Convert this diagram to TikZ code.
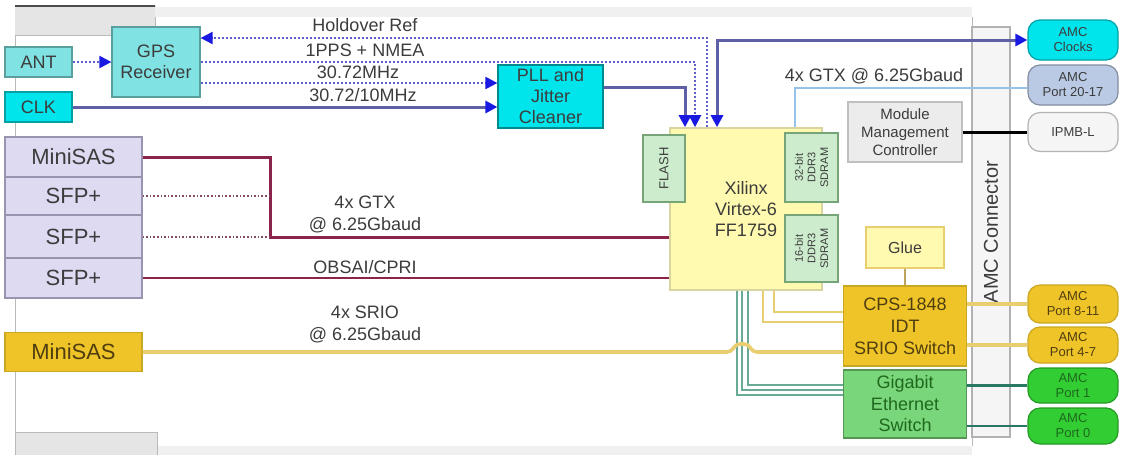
\documentclass[tikz,border=0pt]{standalone}
\usepackage{fontspec}
\setmainfont{Liberation Sans}
\usetikzlibrary{shapes.geometric, arrows.meta, positioning, calc}

\definecolor{cyanlt}{RGB}{128,226,226}
\definecolor{cyanbr}{RGB}{0,228,236}
\definecolor{lavend}{RGB}{222,218,242}
\definecolor{lavbord}{RGB}{150,148,175}
\definecolor{goldfill}{RGB}{238,196,40}
\definecolor{goldline}{RGB}{232,206,112}
\definecolor{goldtxt}{RGB}{80,62,15}
\definecolor{xilfill}{RGB}{255,250,175}
\definecolor{memfill}{RGB}{205,236,205}
\definecolor{membord}{RGB}{120,165,120}
\definecolor{gbefill}{RGB}{122,214,122}
\definecolor{gbetext}{RGB}{30,105,30}
\definecolor{portgreen}{RGB}{50,205,50}
\definecolor{portblue}{RGB}{186,202,228}
\definecolor{clkline}{RGB}{95,95,165}
\definecolor{tipblue}{RGB}{25,25,225}
\definecolor{dotblue}{RGB}{95,95,200}
\definecolor{maroon}{RGB}{140,35,75}
\definecolor{gtxblue}{RGB}{150,195,235}
\definecolor{ethline}{RGB}{105,170,150}
\definecolor{portline}{RGB}{40,120,100}
\definecolor{txt}{RGB}{60,60,60}

\begin{document}
\begin{tikzpicture}[x=0.5pt, y=-0.5pt,
  blk/.style={rectangle, inner sep=0pt, align=center, text=txt, line width=0.6pt, font=\fontsize{9}{10.5}\selectfont},
  port/.style={rectangle, rounded corners=6pt, minimum width=45pt, inner sep=0pt, align=center, text=txt, line width=0.6pt, font=\fontsize{6.5}{7.5}\selectfont},
  sig/.style={inner sep=0pt, align=center, text=txt, font=\fontsize{9}{11}\selectfont},
  dots/.style={dotblue, line width=1pt, densely dotted},
  clkln/.style={clkline, line width=1.5pt},
  bluearr/.style={-{Triangle[width=6pt, length=6pt, color=tipblue]}},
  blueboth/.style={{Triangle[width=6pt, length=6pt, color=tipblue]}-{Triangle[width=6pt, length=6pt, color=tipblue]}}]
  \useasboundingbox (0,0) rectangle (1122,455);

  \fill[gray!20] (15,6) rectangle (155,35);
  \draw[gray!60!black, line width=1pt] (15,6) -- (155,6);
  \draw[gray!55] (155,6) -- (155,35) -- (15,35) -- (15,432);
  \fill[gray!12] (155,7) rectangle (972,17);
  \draw[gray!55] (972,17) -- (972,446);
  \fill[gray!12] (157,446) rectangle (972,455);
  \fill[gray!20] (15,432) rectangle (157,455);
  \draw[gray!55] (15,455) -- (15,432) -- (157,432) -- (157,455);

  \node[blk, rotate=90, fill=gray!8, draw=gray!60, minimum width=205pt, minimum height=19pt, font=\fontsize{10}{12}\selectfont] (conn) at (991,232) {AMC Connector};

  \node[blk, fill=cyanlt, draw=cyanlt!70!black, minimum width=33.5pt, minimum height=15pt] (ant) at (38.5,62) {ANT};
  \node[blk, fill=cyanlt, draw=cyanlt!70!black, minimum width=44pt, minimum height=35pt] (gps) at (156,62) {GPS\\Receiver};
  \node[blk, fill=cyanbr, draw=cyanbr!70!black, minimum width=33.5pt, minimum height=15pt] (clk) at (38.5,107) {CLK};
  \node[blk, fill=cyanbr, draw=cyanbr!60!black, minimum width=52.5pt, minimum height=31.5pt] (pll) at (550.5,96.5) {PLL and\\Jitter\\Cleaner};

  \node[blk, fill=lavend, draw=lavbord, minimum width=68.5pt, minimum height=20pt, font=\fontsize{11}{13}\selectfont] (sas1) at (73.5,157) {MiniSAS};
  \node[blk, fill=lavend, draw=lavbord, minimum width=68.5pt, minimum height=19pt, font=\fontsize{11}{13}\selectfont] (sfpa) at (73.5,196) {SFP+};
  \node[blk, fill=lavend, draw=lavbord, minimum width=68.5pt, minimum height=21.5pt, font=\fontsize{11}{13}\selectfont] (sfpb) at (73.5,237) {SFP+};
  \node[blk, fill=lavend, draw=lavbord, minimum width=68.5pt, minimum height=20pt, font=\fontsize{11}{13}\selectfont] (sfpc) at (73.5,278) {SFP+};
  \node[blk, fill=goldfill, draw=goldfill!85!black, text=goldtxt, minimum width=68.5pt, minimum height=19.5pt, font=\fontsize{11}{13}\selectfont] (sas2) at (73.5,352) {MiniSAS};

  \node[blk, fill=xilfill, draw=xilfill!70!gray, minimum width=76pt, minimum height=81pt, line width=0.8pt] (xil) at (746,209) {Xilinx\\Virtex-6\\FF1759};
  \node[blk, rotate=90, fill=memfill, draw=membord, minimum width=33.5pt, minimum height=21pt, font=\fontsize{6.5}{7}\selectfont] (flash) at (664,168.5) {FLASH};
  \node[blk, rotate=90, fill=memfill, draw=membord, minimum width=34.5pt, minimum height=26.5pt, font=\fontsize{5.5}{6.3}\selectfont] (ddra) at (811.5,167.5) {32-bit\\DDR3\\SDRAM};
  \node[blk, rotate=90, fill=memfill, draw=membord, minimum width=33.5pt, minimum height=26.5pt, font=\fontsize{5.5}{6.3}\selectfont] (ddrb) at (811.5,248.5) {16-bit\\DDR3\\SDRAM};

  \node[blk, fill=gray!15, draw=gray!50, minimum width=57pt, minimum height=30pt, font=\fontsize{7.5}{9}\selectfont] (mmc) at (905,132) {Module\\Management\\Controller};
  \node[blk, fill=xilfill, draw=goldline, minimum width=39pt, minimum height=20.5pt, font=\fontsize{8}{9}\selectfont] (glue) at (905,247.5) {Glue};
  \node[blk, fill=goldfill, draw=goldfill!85!black, text=goldtxt, minimum width=61.5pt, minimum height=40pt, font=\fontsize{9}{11}\selectfont] (cps) at (905,326) {CPS-1848\\IDT\\SRIO Switch};
  \node[blk, fill=gbefill, draw=gbefill!70!black, text=gbetext, minimum width=61.5pt, minimum height=34pt, font=\fontsize{9}{10.75}\selectfont] (gbe) at (905,404) {Gigabit\\Ethernet\\Switch};

  \node[port, fill=cyanbr, draw=cyanbr!70!black, minimum height=20pt] (amcclk) at (1073,40) {AMC\\Clocks};
  \node[port, fill=portblue, draw=portblue!70!black, minimum height=20pt] (p2017) at (1073,85) {AMC\\Port 20-17};
  \node[port, fill=gray!8, draw=gray!60, minimum height=19.5pt] (ipmb) at (1073,132) {IPMB-L};
  \node[port, fill=goldfill, draw=goldfill!85!black, text=goldtxt, minimum height=19pt] (p811) at (1073,304) {AMC\\Port 8-11};
  \node[port, fill=goldfill, draw=goldfill!85!black, text=goldtxt, minimum height=18pt] (p47) at (1073,345) {AMC\\Port 4-7};
  \node[port, fill=portgreen, draw=portgreen!75!black, text=gbetext, minimum height=17.5pt] (p1) at (1073,385.5) {AMC\\Port 1};
  \node[port, fill=portgreen, draw=portgreen!75!black, text=gbetext, minimum height=18pt] (p0) at (1073,426) {AMC\\Port 0};

  \node[sig] (lhold) at (365,25) {Holdover Ref};
  \node[sig] (lpps) at (365,50) {1PPS + NMEA};
  \node[sig] (lmhz) at (358,72) {30.72MHz};
  \node[sig] (lclk) at (363,95) {30.72/10MHz};
  \node[sig] (lgtx) at (365,214) {4x GTX\\@ 6.25Gbaud};
  \node[sig] (lobs) at (365,267) {OBSAI/CPRI};
  \node[sig] (lsrio) at (365,324) {4x SRIO\\@ 6.25Gbaud};
  \node[sig] (lgtxr) at (874,76) {4x GTX @ 6.25Gbaud};

  \coordinate (hold) at (707,38);
  \coordinate (pps) at (695,62);
  \coordinate (mhz) at (400,83);
  \coordinate (pllx) at (685,87);
  \coordinate (amcx) at (717,40);
  \coordinate (gtxr) at (795,88);
  \coordinate (gtxj) at (270,237);
  \coordinate (hop) at (742,352);
  \coordinate (sw1) at (774,312);
  \coordinate (sw2) at (763,322);

  \draw[dots, bluearr] (ant) -- (gps);
  \draw[dots, bluearr] (xil.north -| hold) -- (hold) -- (gps.east |- hold);
  \draw[dots, bluearr] (gps.east |- pps) -- (pps) -- (pps |- xil.north);
  \draw[dots, bluearr] (gps.east |- mhz) -- (pll.west |- mhz);
  \draw[clkln, bluearr] (clk) -- (clk -| pll.west);
  \draw[clkln, bluearr] (pll.east |- pllx) -- (pllx) -- (pllx |- xil.north);
  \draw[clkln, blueboth] (xil.north -| amcx) -- (amcx) -- (amcclk);
  \draw[gtxblue, line width=1.2pt] (xil.north -| gtxr) -- (gtxr) -- (p2017.west |- gtxr);
  \draw[black, line width=1.5pt] (mmc) -- (ipmb);

  \draw[maroon, line width=1.5pt] (sas1) -| (gtxj) -- (xil.west |- gtxj);
  \draw[maroon!55!gray, densely dotted, line width=0.8pt] (sfpa) -- (sfpa -| gtxj);
  \draw[maroon!55!gray, densely dotted, line width=0.8pt] (sfpb) -- (sfpb -| gtxj);
  \draw[maroon, line width=1pt] (sfpc) -- (sfpc -| xil.west);

  \foreach \gx/\gy in {737/395, 742/390, 748/385}
    \draw[ethline, line width=0.9pt] (xil.south -| \gx,0) |- (gbe.west |- 0,\gy);
  \draw[goldline, line width=1.2pt] (xil.south -| sw1) |- (cps.west |- sw1);
  \draw[goldline, line width=1.2pt] (xil.south -| sw2) |- (cps.west |- sw2);
  \draw[goldline, line width=1.8pt, rounded corners=2pt] (sas2) -- ($(hop)+(-11,0)$) -- ++(5,-8) -- ++(12,0) -- ++(5,8) -- (cps.west |- hop);
  \draw[goldline!80!black, line width=0.8pt] (glue) -- (cps);

  \draw[goldline, line width=1.8pt] (cps.east |- p811) -- (p811);
  \draw[goldline, line width=1.8pt] (cps.east |- p47) -- (p47);
  \draw[portline, line width=1.2pt] (gbe.east |- p1) -- (p1);
  \draw[portline, line width=1.2pt] (gbe.east |- p0) -- (p0);
\end{tikzpicture}
\end{document}
